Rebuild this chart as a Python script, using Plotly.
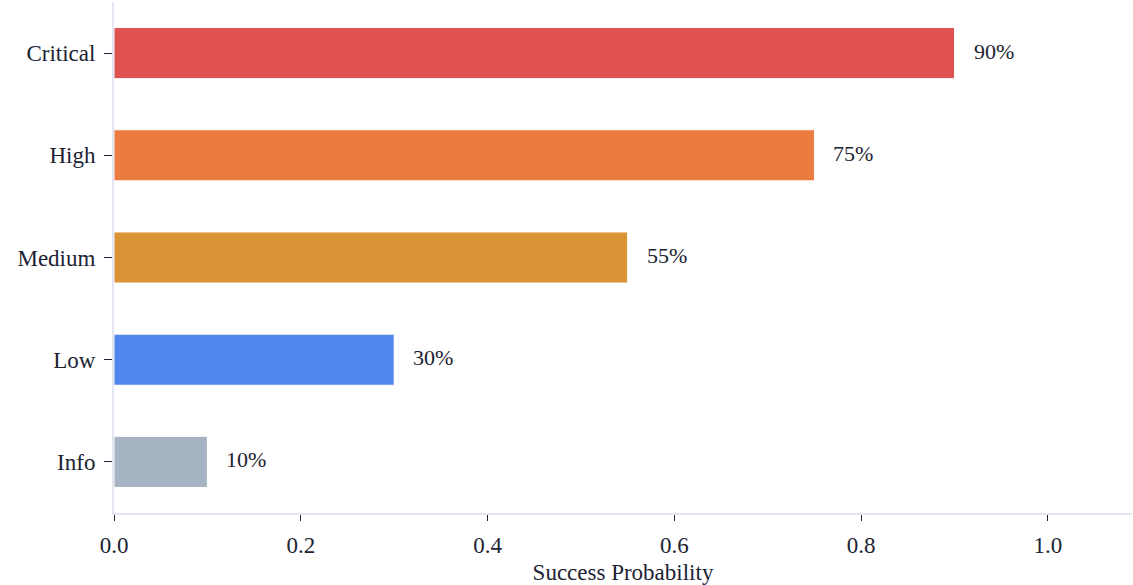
import plotly.graph_objects as go

categories = ["Info", "Low", "Medium", "High", "Critical"]
probabilities = [0.10, 0.30, 0.55, 0.75, 0.90]
labels = ["10%", "30%", "55%", "75%", "90%"]
colors = ["#a5b3c2", "#5087ed", "#db9435", "#eb7b3f", "#e05252"]

FONT = "Liberation Serif"
TXT = "#1c2333"
FS = 23

fig = go.Figure(go.Bar(
    x=probabilities, y=categories, orientation="h",
    marker=dict(color=colors, line=dict(color="white", width=1)),
    width=0.5,
))

for c, v, t in zip(categories, probabilities, labels):
    fig.add_annotation(x=v, y=c, text=t, showarrow=False, xanchor="left",
                       xshift=17, yshift=2, font=dict(family=FONT, size=FS - 1, color=TXT))

fig.update_layout(
    width=1133, height=585,
    margin=dict(l=114, r=1, t=2, b=72),
    plot_bgcolor="white", paper_bgcolor="white",
    font=dict(family=FONT, size=FS, color=TXT),
    showlegend=False,
    xaxis=dict(range=[0, 1.09], tickvals=[0, 0.2, 0.4, 0.6, 0.8, 1.0],
               ticktext=["0.0", "0.2", "0.4", "0.6", "0.8", "1.0"],
               showgrid=False, zeroline=False, showline=True, linecolor="#e3e6f0",
               linewidth=2, ticks="outside", ticklen=6, tickcolor=TXT,
               ticklabelstandoff=4,
               title=dict(text="Success Probability", standoff=8,
                          font=dict(family=FONT, size=FS, color=TXT))),
    yaxis=dict(showgrid=False, zeroline=False, showline=True, linecolor="#e3e6f0",
               linewidth=2, ticks="outside", ticklen=8, tickcolor=TXT,
               ticklabelstandoff=4, range=[-0.5, 4.5]),
)

fig.write_html("out.html")
